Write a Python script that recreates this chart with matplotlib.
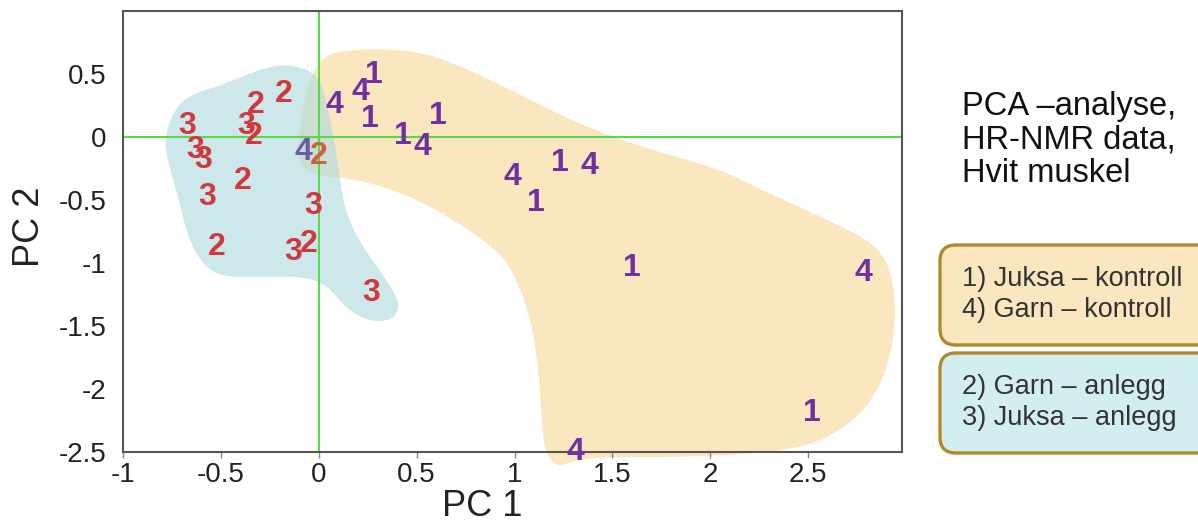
import numpy as np
import matplotlib
matplotlib.use('Agg')
import matplotlib.pyplot as plt
from matplotlib.patches import Polygon, FancyBboxPatch

plt.rcParams['font.family'] = ['Liberation Sans', 'DejaVu Sans']
plt.rcParams['axes.unicode_minus'] = False

# Poeng lest av figuren (PC 1, PC 2)
# 1) Juksa - kontroll
juksa_kontroll_x = [0.28, 0.26, 0.61, 0.43, 1.11, 1.23, 1.60, 2.52]
juksa_kontroll_y = [0.49, 0.14, 0.17, 0.01, -0.52, -0.21, -1.04, -2.19]
# 4) Garn - kontroll
garn_kontroll_x = [0.08, 0.21, 0.53, -0.08, 0.99, 1.38, 2.78, 1.31]
garn_kontroll_y = [0.25, 0.36, -0.08, -0.12, -0.32, -0.23, -1.08, -2.50]
# 2) Garn - anlegg
garn_anlegg_x = [-0.32, -0.33, -0.18, -0.39, -0.52, -0.05, 0.00]
garn_anlegg_y = [0.25, 0.01, 0.34, -0.35, -0.87, -0.85, -0.15]
# 3) Juksa - anlegg
juksa_anlegg_x = [-0.67, -0.63, -0.59, -0.37, -0.57, -0.13, -0.03, 0.27]
juksa_anlegg_y = [0.09, -0.10, -0.18, 0.09, -0.48, -0.91, -0.55, -1.24]

# Omriss av de skraverte gruppene (hjorner, glattes under)
kontroll_omriss_x = [0.01, 0.10, 0.27, 0.52, 0.76, 1.10, 1.35, 1.69, 2.04, 2.29, 2.63, 2.83,
                     2.92, 2.95, 2.92, 2.83, 2.68, 2.46, 1.95, 1.44, 1.30, 1.22, 1.16, 1.14,
                     1.12, 1.07, 0.98, 0.90, 0.76, 0.59, 0.42, 0.18, 0.01, -0.09, -0.11, -0.09, -0.06]
kontroll_omriss_y = [0.62, 0.68, 0.70, 0.68, 0.54, 0.28, 0.09, -0.10, -0.25, -0.44, -0.68, -0.84,
                     -1.03, -1.37, -1.77, -2.09, -2.32, -2.48, -2.54, -2.54, -2.57, -2.62, -2.52, -2.30,
                     -1.77, -1.37, -1.03, -0.89, -0.73, -0.57, -0.44, -0.33, -0.31, -0.25, -0.10, 0.14, 0.41]
anlegg_omriss_x = [-0.79, -0.74, -0.65, -0.50, -0.33, -0.19, -0.06, 0.01, 0.06, 0.10, 0.13, 0.21,
                   0.33, 0.40, 0.41, 0.36, 0.25, 0.14, 0.05, -0.06, -0.30, -0.50, -0.60, -0.67, -0.72, -0.77]
anlegg_omriss_y = [-0.02, 0.22, 0.34, 0.41, 0.52, 0.58, 0.54, 0.45, 0.14, -0.23, -0.57, -0.84,
                   -1.10, -1.27, -1.38, -1.46, -1.46, -1.36, -1.19, -1.11, -1.11, -1.11, -1.00, -0.79, -0.47, -0.20]

x_ticks = [-1, -0.5, 0, 0.5, 1, 1.5, 2, 2.5]
y_ticks = [-2.5, -2, -1.5, -1, -0.5, 0, 0.5]

tittel_linjer = ['PCA \u2013analyse,', 'HR-NMR data,', 'Hvit muskel']
kontroll_tekst = ['1) Juksa \u2013 kontroll', '4) Garn \u2013 kontroll']
anlegg_tekst = ['2) Garn \u2013 anlegg', '3) Juksa \u2013 anlegg']

RED = '#d1383d'
PURPLE = '#7030a0'
YELLOW = '#fae6bf'
BLUE = '#acdadf'
GOLD = '#b08a2a'


def chaikin(xs, ys, n=3):
    pts = np.column_stack([xs, ys])
    for _ in range(n):
        nxt = np.roll(pts, -1, axis=0)
        q = 0.75 * pts + 0.25 * nxt
        r = 0.25 * pts + 0.75 * nxt
        pts = np.empty((2 * len(q), 2))
        pts[0::2] = q
        pts[1::2] = r
    return pts


fig = plt.figure(figsize=(11.98, 5.26), dpi=100)
ax = fig.add_axes([0.1027, 0.1407, 0.6503, 0.8384])

ax.set_xlim(-1, 2.98)
ax.set_ylim(-2.5, 1.0)

# skraverte omrader
ax.add_patch(Polygon(chaikin(kontroll_omriss_x, kontroll_omriss_y), closed=True,
                     facecolor=YELLOW, edgecolor='none', zorder=1, clip_on=False))
ax.add_patch(Polygon(chaikin(anlegg_omriss_x, anlegg_omriss_y), closed=True,
                     facecolor=BLUE, edgecolor='none', alpha=0.6, zorder=2, clip_on=False))

# akser gjennom origo
ax.axhline(0, color='#5ad84a', lw=1.5, zorder=3)
ax.axvline(0, color='#5ad84a', lw=1.5, zorder=3)

# punkter som ligger i overlappet er litt "nedtonet" i originalen
overlapp_farge = {('4', 3): '#6a5aaa', ('2', 6): '#c8643c'}

grupper = [('1', juksa_kontroll_x, juksa_kontroll_y, PURPLE),
           ('4', garn_kontroll_x, garn_kontroll_y, PURPLE),
           ('2', garn_anlegg_x, garn_anlegg_y, RED),
           ('3', juksa_anlegg_x, juksa_anlegg_y, RED)]
for lab, xs, ys, col in grupper:
    for i, (x, y) in enumerate(zip(xs, ys)):
        c = overlapp_farge.get((lab, i), col)
        ax.text(x, y, lab, color=c, fontsize=23, fontweight='bold',
                ha='center', va='center', zorder=4, clip_on=False)

ax.set_xticks(x_ticks)
ax.set_xticklabels(['%g' % t for t in x_ticks])
ax.set_yticks(y_ticks)
ax.set_yticklabels(['%g' % t for t in y_ticks])
ax.tick_params(axis='x', length=4, width=1, color='#888888', pad=3, labelsize=20, labelcolor='#222222')
ax.tick_params(axis='y', length=0, pad=12, labelsize=20, labelcolor='#222222')
for s in ax.spines.values():
    s.set_color('#555555')
    s.set_linewidth(1.5)
    s.set_zorder(3.5)

ax.set_xlabel('PC 1', fontsize=26, color='#222222')
ax.set_ylabel('PC 2', fontsize=26, color='#222222')
ax.xaxis.set_label_coords(0.461, -0.085)
ax.yaxis.set_label_coords(-0.097, 0.51)

# tittel til hoyre
for i, linje in enumerate(tittel_linjer):
    fig.text(962 / 1198, 1 - (115 + 33.5 * i) / 526, linje, fontsize=23.5,
             color='#111111', ha='left', va='baseline')

# forklaringsbokser
for (y0, fc, tekster) in [(1.81, YELLOW, kontroll_tekst), (0.73, '#d3eef0', anlegg_tekst)]:
    box = FancyBboxPatch((9.40, y0), 2.9, 1.0, boxstyle='round,pad=0,rounding_size=0.16',
                         transform=fig.dpi_scale_trans, facecolor=fc, edgecolor=GOLD,
                         linewidth=2.4, clip_on=False)
    fig.patches.append(box)
    for j, t in enumerate(tekster):
        fig.text(962 / 1198, (y0 + 0.66 - 0.31 * j) / 5.26, t, fontsize=19.5,
                 color='#333333', ha='left', va='center')

fig.savefig('out.png', dpi=100)
